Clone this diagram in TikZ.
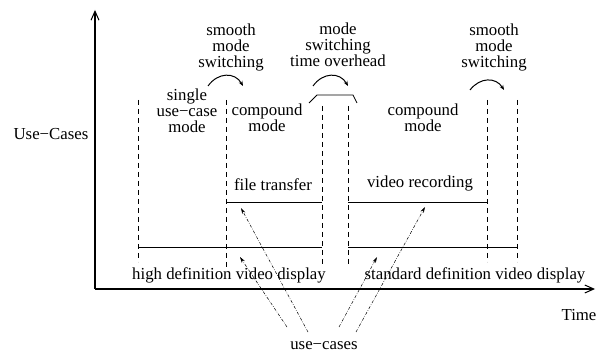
\documentclass[tikz,border=0pt]{standalone}
\usepackage{fontspec}
\setmainfont{Liberation Serif}
\usetikzlibrary{arrows.meta}
\begin{document}
\begin{tikzpicture}[x=1pt,y=-1pt,
  lbl/.style={inner sep=0pt,font=\fontsize{16.8}{16}\selectfont,align=center},
  axis/.style={line width=1.4pt,-{Straight Barb[length=9pt,width=8pt,line width=1pt]}},
  guide/.style={line width=0.7pt,dash pattern=on 5pt off 4pt},
  span/.style={line width=0.8pt},
  swarrow/.style={line width=1pt,-{Stealth[length=5pt,width=4pt]}},
  ptr/.style={line width=0.5pt,dash pattern=on 3pt off 1.5pt on 0.6pt off 1.5pt,-{Stealth[length=6pt,width=3.5pt]}}
]
\useasboundingbox (0,0) rectangle (602,352);
% axes
\coordinate (O) at (95,289);
\coordinate (ytop) at (95,10);
\coordinate (xend) at (595,289);
\draw[axis] (O) -- (ytop);
\draw[axis] (O) -- (xend);
% dashed guides
\coordinate (g1t) at (138,100); \coordinate (g1b) at (138,262);
\coordinate (g2t) at (226,100); \coordinate (g2b) at (226,270);
\coordinate (g3t) at (322,106); \coordinate (g3b) at (322,267);
\coordinate (g4t) at (348,106); \coordinate (g4b) at (348,267);
\coordinate (g5t) at (487,100); \coordinate (g5b) at (487,262);
\coordinate (g6t) at (517,100); \coordinate (g6b) at (517,262);
\foreach \g in {1,...,6} \draw[guide] (g\g t) -- (g\g b);
% spans
\coordinate (hd1) at (138,247); \coordinate (hd2) at (322,247);
\coordinate (ft1) at (226,202); \coordinate (ft2) at (322,202);
\coordinate (vr1) at (348,202); \coordinate (vr2) at (487,202);
\coordinate (sd1) at (348,247); \coordinate (sd2) at (517,247);
\draw[span] (hd1) -- (hd2);
\draw[span] (ft1) -- (ft2);
\draw[span] (vr1) -- (vr2);
\draw[span] (sd1) -- (sd2);
% text labels
\node[lbl,anchor=base] (hdl) at (229,280) {high definition video display};
\node[lbl,anchor=base] (sdl) at (475,280) {standard definition video display};
\node[lbl,anchor=base] (ftl) at (273,191) {file transfer};
\node[lbl,anchor=base] (vrl) at (420,188) {video recording};
\node[lbl,anchor=base] (time) at (579,320) {Time};
\node[lbl,anchor=base] (uc) at (324,349) {use−cases};
\node[lbl,anchor=base] (ucs) at (51,140) {Use−Cases};
\node[lbl] (sm1) at (231,47) {smooth\\mode\\switching};
\node[lbl] (msto) at (338,45) {mode\\switching\\time overhead};
\node[lbl] (sm2) at (494,47) {smooth\\mode\\switching};
\node[lbl] (single) at (187,111) {single\\use−case\\mode};
\node[lbl] (cm1) at (267,118) {compound\\mode};
\node[lbl] (cm2) at (423,118) {compound\\mode};
% smooth switching arrows
\coordinate (a1s) at (208,86); \coordinate (a1e) at (243,86);
\coordinate (a2s) at (313,86); \coordinate (a2e) at (348,86);
\coordinate (a3s) at (470,90); \coordinate (a3e) at (504,90);
\draw[swarrow] (a1s) .. controls (218,72) and (235,72) .. (a1e);
\draw[swarrow] (a2s) .. controls (323,72) and (340,72) .. (a2e);
\draw[swarrow] (a3s) .. controls (480,77) and (496,77) .. (a3e);
% overhead bracket
\coordinate (b1) at (309,103); \coordinate (b2) at (317,95);
\coordinate (b3) at (353,95); \coordinate (b4) at (357,103);
\draw[line width=0.8pt] (b1) -- (b2) -- (b3) -- (b4);
% use-case pointers
\coordinate (p1s) at (287,327); \coordinate (p1e) at (240,257);
\coordinate (p2s) at (308,332); \coordinate (p2e) at (241,208);
\coordinate (p3s) at (339,327); \coordinate (p3e) at (377,257);
\coordinate (p4s) at (356,332); \coordinate (p4e) at (425,207);
\draw[ptr] (p1s) -- (p1e);
\draw[ptr] (p2s) -- (p2e);
\draw[ptr] (p3s) -- (p3e);
\draw[ptr] (p4s) -- (p4e);
\end{tikzpicture}
\end{document}
